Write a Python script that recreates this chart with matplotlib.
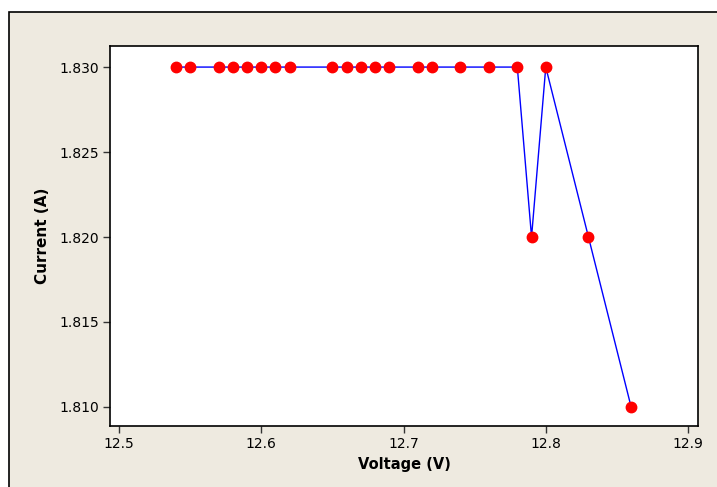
import matplotlib
matplotlib.use("Agg")
import matplotlib.pyplot as plt
from matplotlib.patches import Rectangle

voltage = [12.54, 12.55, 12.57, 12.58, 12.59, 12.60, 12.61, 12.62, 12.65, 12.66,
           12.67, 12.68, 12.69, 12.71, 12.72, 12.74, 12.76, 12.78, 12.79, 12.80,
           12.83, 12.86]
current = [1.830, 1.830, 1.830, 1.830, 1.830, 1.830, 1.830, 1.830, 1.830, 1.830,
           1.830, 1.830, 1.830, 1.830, 1.830, 1.830, 1.830, 1.830, 1.820, 1.830,
           1.820, 1.810]
xticks = [12.5, 12.6, 12.7, 12.8, 12.9]
yticks = [1.810, 1.815, 1.820, 1.825, 1.830]

plt.rcParams['font.family'] = ['DejaVu Sans']

W, H = 717, 487
fig = plt.figure(figsize=(W / 100, H / 100), dpi=100)
fig.patch.set_facecolor('white')

bg = Rectangle((9 / W, -0.1), 1.2, 1 - 12 / H + 0.1, transform=fig.transFigure,
               facecolor='#EEEAE0', edgecolor='black', linewidth=1.2, zorder=-10)
fig.patches.append(bg)

ax = fig.add_axes([110 / W, 1 - 426 / H, 588 / W, 380 / H])
ax.set_zorder(5)
ax.set_facecolor('white')
ax.plot(voltage, current, color='#0000FF', linewidth=1.0, zorder=2)
ax.plot(voltage, current, linestyle='none', marker='o', markersize=7.5,
        markerfacecolor='#FF0000', markeredgecolor='#FF0000', zorder=3)

ax.set_xlim(12.4937, 12.907)
ax.set_ylim(1.80888, 1.83124)
ax.set_xticks(xticks)
ax.set_xticklabels([f"{t:.1f}" for t in xticks])
ax.set_yticks(yticks)
ax.set_yticklabels([f"{t:.3f}" for t in yticks])

for s in ax.spines.values():
    s.set_color('black')
    s.set_linewidth(1.2)

ax.tick_params(axis='both', direction='out', length=5, width=1, color='#333333',
               labelsize=10, top=False, right=False, pad=3)

ax.set_xlabel('Voltage (V)', fontsize=10.5, fontweight='bold', labelpad=4)
ax.set_ylabel('Current (A)', fontsize=11, fontweight='bold', labelpad=6.5)

fig.savefig('out.png', dpi=100, facecolor=fig.get_facecolor())
